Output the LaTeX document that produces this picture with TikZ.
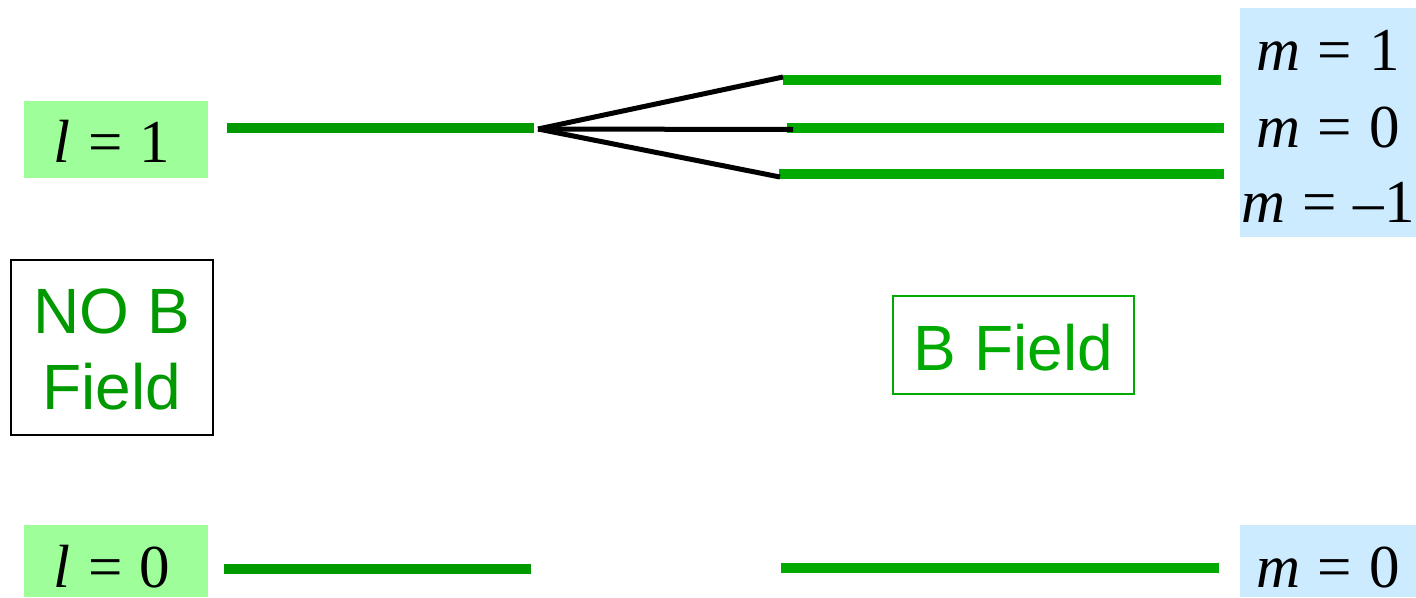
\documentclass[tikz,border=0pt]{standalone}
\usepackage{fontspec}
\setmainfont{Liberation Serif}
\newfontfamily\labelsans{Liberation Sans}
\definecolor{levelgreen}{HTML}{009900}
\definecolor{splitgreen}{HTML}{00AA00}
\definecolor{lfill}{HTML}{9EFF9A}
\definecolor{mfill}{HTML}{CCEBFF}
\newcommand{\eqsp}{\hspace{0.28em}=\hspace{0.28em}}
\begin{document}
\begin{tikzpicture}[x=1pt,y=-1pt,
  qnum/.style={font=\fontsize{61}{72}\selectfont, inner sep=0pt, anchor=base},
  tagtext/.style={font=\labelsans\fontsize{64}{76}\selectfont, inner sep=0pt, anchor=base},
  lbox/.style={fill=lfill, draw=none, inner sep=0pt},
  mbox/.style={fill=mfill, draw=none, inner sep=0pt},
  level/.style={line width=10pt, line cap=butt},
  split/.style={line width=5pt, black, line cap=butt}]
\useasboundingbox (0,0) rectangle (1416,597);

% label boxes
\node (l1box) [lbox, minimum width=184pt, minimum height=77pt] at (116,139.5) {};
\node (l0box) [lbox, minimum width=184pt, minimum height=72pt] at (116,561) {};
\node (mbox1) [mbox, minimum width=176pt, minimum height=229pt] at (1328,122.5) {};
\node (mbox0) [mbox, minimum width=176pt, minimum height=72pt] at (1328,561) {};

% quantum number labels
\node (l1) [qnum] at (112,162) {\textit{l}\eqsp1};
\node (l0) [qnum] at (112,587) {\textit{l}\eqsp0};
\node (mp) [qnum] at (1328,70) {\textit{m}\eqsp1};
\node (mz) [qnum] at (1328,147) {\textit{m}\eqsp0};
\node (mm) [qnum] at (1328,222) {\textit{m}\eqsp–1};
\node (mg) [qnum] at (1328,587) {\textit{m}\eqsp0};

% field captions
\node (nob) [draw=black, line width=2pt, minimum width=202pt, minimum height=175pt, inner sep=0pt] at (112,347.5) {};
\node (nobt1) [tagtext, text=levelgreen] at (112,333) {NO B};
\node (nobt2) [tagtext, text=levelgreen] at (112,409) {Field};
\node (bf) [draw=splitgreen, line width=2pt, minimum width=241pt, minimum height=98pt, inner sep=0pt] at (1013.5,345) {};
\node (bft) [tagtext, text=splitgreen] at (1013.5,370) {B Field};

% energy levels
\coordinate (p1a) at (227,128);  \coordinate (p1b) at (534,128);
\coordinate (p0a) at (224,568.5); \coordinate (p0b) at (531,568.5);
\coordinate (sua) at (783,80);   \coordinate (sub) at (1221,80);
\coordinate (sma) at (787,128);  \coordinate (smb) at (1224,128);
\coordinate (sda) at (779,174);  \coordinate (sdb) at (1224,174);
\coordinate (sga) at (781,568);  \coordinate (sgb) at (1219,568);

\draw[level, levelgreen] (p1a) -- (p1b);
\draw[level, levelgreen] (p0a) -- (p0b);
\draw[level, splitgreen] (sua) -- (sub);
\draw[level, splitgreen] (sma) -- (smb);
\draw[level, splitgreen] (sda) -- (sdb);
\draw[level, splitgreen] (sga) -- (sgb);

% Zeeman splitting fan
\coordinate (fan) at (538,129);
\coordinate (fu) at (783,77);
\coordinate (fm) at (793,129.5);
\coordinate (fd) at (780,177);
\draw[split] (fan) -- (fu);
\draw[split] (fan) -- (fm);
\draw[split] (fan) -- (fd);
\end{tikzpicture}
\end{document}
